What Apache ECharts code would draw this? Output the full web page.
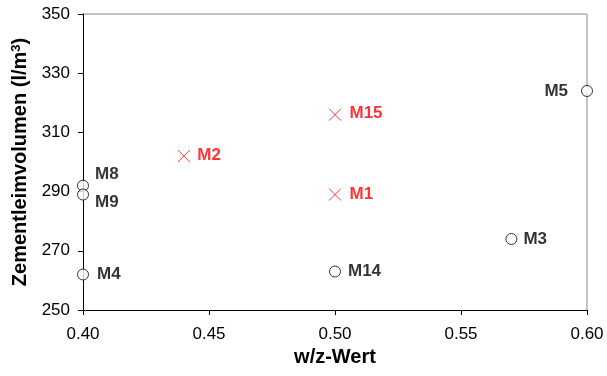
<!DOCTYPE html>
<html>
<head>
<meta charset="utf-8">
<script src="https://cdn.jsdelivr.net/npm/echarts@6/dist/echarts.min.js"></script>
<style>
  html, body { margin: 0; padding: 0; background: #fff; }
  #chart { width: 607px; height: 376px; }
</style>
</head>
<body>
<div id="chart"></div>
<script>
// reference mixes (open circles)
const circleNames = ['M8', 'M9', 'M4', 'M14', 'M3', 'M5'];
const circleX = [0.40, 0.40, 0.40, 0.50, 0.57, 0.60];
const circleY = [292, 289, 262, 263, 274, 324];

// red crosses
const crossNames = ['M2', 'M15', 'M1'];
const crossX = [0.44, 0.50, 0.50];
const crossY = [302, 316, 289];

// label placement per point name
const labelPos = {
  M8: { position: 'right', offset: [1, -11] },
  M9: { position: 'right', offset: [1, 8] },
  M4: { position: 'right', offset: [3, 0] },
  M14: { position: 'right', offset: [2, 0] },
  M3: { position: 'right', offset: [1, 0] },
  M5: { position: 'left', offset: [-8, 0] },
  M2: { position: 'right', offset: [0, -1] },
  M15: { position: 'right', offset: [1, -1] },
  M1: { position: 'right', offset: [1, 0] },
};

const font = 'Liberation Sans, Arial, sans-serif';

function points(names, xs, ys) {
  return names.map((n, i) => ({
    name: n,
    value: [xs[i], ys[i]],
    label: labelPos[n],
  }));
}

const chart = echarts.init(document.getElementById('chart'));
chart.setOption({
  animation: false,
  grid: { left: 83, right: 20, top: 14, bottom: 66 },
  xAxis: {
    type: 'value',
    min: 0.4,
    max: 0.6,
    interval: 0.05,
    name: 'w/z-Wert',
    nameLocation: 'middle',
    nameGap: 36,
    nameTextStyle: { fontFamily: font, fontSize: 20, fontWeight: 'bold', color: '#000' },
    axisLine: { lineStyle: { color: '#000', width: 1 } },
    axisTick: { show: true, length: 5, lineStyle: { color: '#000' } },
    axisLabel: {
      fontFamily: font, fontSize: 17, color: '#000', margin: 16,
      formatter: (v) => v.toFixed(2),
    },
    splitLine: { show: false },
  },
  yAxis: {
    type: 'value',
    min: 250,
    max: 350,
    interval: 20,
    name: 'Zementleimvolumen (l/m{sup|3})',
    nameLocation: 'middle',
    nameGap: 46,
    nameTextStyle: {
      fontFamily: font, fontSize: 20, fontWeight: 'bold', color: '#000',
      rich: {
        sup: { fontFamily: font, fontSize: 13, fontWeight: 'bold', color: '#000', verticalAlign: 'top', padding: [0, 0, 9, 0] },
      },
    },
    axisLine: { lineStyle: { color: '#000', width: 1 } },
    axisTick: { show: true, length: 5, lineStyle: { color: '#000' } },
    axisLabel: { fontFamily: font, fontSize: 17, color: '#000', margin: 13 },
    splitLine: { show: false },
  },
  graphic: [
    // gray top and right frame of the plot area
    { type: 'line', shape: { x1: 83, y1: 14, x2: 587, y2: 14 }, style: { stroke: '#b0b0b0', lineWidth: 1.5 } },
    { type: 'line', shape: { x1: 587, y1: 14, x2: 587, y2: 310 }, style: { stroke: '#b0b0b0', lineWidth: 1.5 } },
  ],
  series: [
    {
      type: 'scatter',
      data: points(circleNames, circleX, circleY),
      symbol: 'circle',
      symbolSize: 11,
      itemStyle: { color: '#fff', borderColor: '#000', borderWidth: 1 },
      label: {
        show: true,
        formatter: '{b}',
        fontFamily: font, fontSize: 17, fontWeight: 'bold', color: '#000',
      },
      z: 3,
    },
    {
      type: 'scatter',
      data: points(crossNames, crossX, crossY),
      symbol: 'path://M0,0L10,10M10,0L0,10',
      symbolSize: 12,
      itemStyle: { color: 'none', borderColor: '#ff0000', borderWidth: 1 },
      label: {
        show: true,
        formatter: '{b}',
        fontFamily: font, fontSize: 17, fontWeight: 'bold', color: '#ff0000',
      },
      z: 3,
    },
  ],
});
</script>
</body>
</html>
